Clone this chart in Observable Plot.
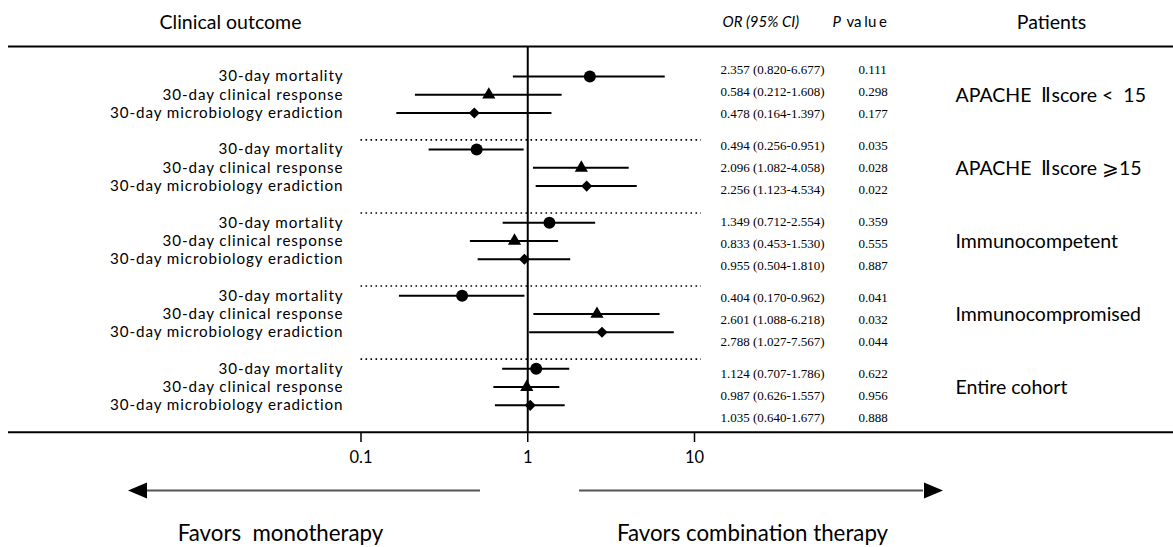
<!DOCTYPE html>
<html>
<head>
<meta charset="utf-8">
<script src="https://cdn.jsdelivr.net/npm/d3@7"></script>
<script src="https://cdn.jsdelivr.net/npm/@observablehq/plot@0.6"></script>
<style>
  html, body { margin: 0; padding: 0; background: #fff; }
  #chart svg { display: block; }
</style>
</head>
<body>
<div id="chart"></div>
<script>
// ---------- data ----------
const groups = ["APACHE\u00a0\u00a0\u2161score <\u00a0\u00a015", "APACHE\u00a0\u00a0\u2161score \u2a7e15", "Immunocompetent", "Immunocompromised", "Entire cohort"];
const outcomes = ["30-day mortality", "30-day clinical response", "30-day microbiology eradiction"];
const orValues = [2.357, 0.584, 0.478, 0.494, 2.096, 2.256, 1.349, 0.833, 0.955, 0.404, 2.601, 2.788, 1.124, 0.987, 1.035];
const ciLow    = [0.820, 0.212, 0.164, 0.256, 1.082, 1.123, 0.712, 0.453, 0.504, 0.170, 1.088, 1.027, 0.707, 0.626, 0.640];
const ciHigh   = [6.677, 1.608, 1.397, 0.951, 4.058, 4.534, 2.554, 1.530, 1.810, 0.962, 6.218, 7.567, 1.786, 1.557, 1.677];
const pValues  = ["0.111", "0.298", "0.177", "0.035", "0.028", "0.022", "0.359", "0.555", "0.887", "0.041", "0.032", "0.044", "0.622", "0.956", "0.888"];
const tickValues = [0.1, 1, 10];

// ---------- layout ----------
const W = 1173, H = 547;
const f3 = d3.format(".3f");
const rows = orValues.map((v, i) => {
  const g = Math.floor(i / 3), j = i % 3;
  return {
    g, j, or: v, lo: ciLow[i], hi: ciHigh[i],
    label: outcomes[j],
    k: 4 * g + j,                       // row slot (blank slot between groups)
    tk: -0.38 + 4.16 * g + 1.2 * j,     // slot of the numeric text column
    ci: `${f3(v)} (${f3(ciLow[i])}-${f3(ciHigh[i])})`,
    p: pValues[i]
  };
});

const xOpts = {type: "log", domain: [0.1, 10], range: [360.5, 694]};
const yOpts = {type: "linear", domain: [0, 1], range: [76, 94.27]};
const xs = Plot.scale({x: xOpts});
const ys = Plot.scale({y: yOpts});
const X = px => xs.invert(px);
const Y = py => ys.invert(py);

const sans = "Lato, 'Open Sans', sans-serif";
const serif = "'Liberation Serif', 'DejaVu Serif', serif";

const arrowHead = {
  draw(ctx) { ctx.moveTo(10, 0); ctx.lineTo(-9, -8); ctx.lineTo(-9, 8); ctx.closePath(); }
};

const sepSlots = [0, 1, 2, 3].map(g => 4 * g + 3.47);

const marks = [
  // top rule and baseline
  Plot.ruleY([Y(46)], {strokeWidth: 2}),
  Plot.ruleY([Y(431.7)], {strokeWidth: 2}),
  // line of no effect
  Plot.ruleX([1], {y1: Y(46), y2: Y(431.7), strokeWidth: 2}),
  // dotted separators
  Plot.ruleY(sepSlots, {x1: 0.1, x2: X(701), strokeWidth: 1.6, strokeDasharray: "1.6,3.4"}),
  // CI lines
  Plot.ruleY(rows, {y: "k", x1: "lo", x2: "hi", strokeWidth: 2}),
  // point estimates
  Plot.dot(rows.filter(d => d.j === 0), {x: "or", y: "k", symbol: "circle", r: 6, fill: "black", stroke: "none"}),
  Plot.dot(rows.filter(d => d.j === 1), {x: "or", y: "k", symbol: "triangle", r: 4.9, fill: "black", stroke: "none"}),
  Plot.dot(rows.filter(d => d.j === 2), {x: "or", y: "k", symbol: "diamond2", r: 5, fill: "black", stroke: "none"}),
  // outcome labels
  Plot.text(rows, {x: X(343), y: "k", text: "label", textAnchor: "end", fontSize: 15.2, fontFamily: sans}),
  // OR (CI) and P value columns
  Plot.text(rows, {x: X(720), y: "tk", text: "ci", textAnchor: "start", fontSize: 13, fontFamily: serif}),
  Plot.text(rows, {x: X(858), y: "tk", text: "p", textAnchor: "start", fontSize: 13, fontFamily: serif}),
  // group labels
  Plot.text(groups, {x: X(955), y: (d, i) => 4 * i + 1.05, text: d => d, textAnchor: "start", fontSize: 19.5, fontFamily: sans}),
  // headers
  Plot.text(["Clinical outcome"], {x: X(230), y: Y(22), text: d => d, textAnchor: "middle", fontSize: 19.5, fontFamily: sans}),
  Plot.text(["OR (95% CI)"], {x: X(722), y: Y(22), text: d => d, textAnchor: "start", fontSize: 15, fontStyle: "italic", fontFamily: sans}),
  Plot.text(["P"], {x: X(832), y: Y(22), text: d => d, textAnchor: "start", fontSize: 15, fontStyle: "italic", fontFamily: sans}),
  Plot.text(["va\u2009\u200alu\u2009\u200ae"], {x: X(846), y: Y(22), text: d => d, textAnchor: "start", fontSize: 15, fontFamily: sans}),
  Plot.text(["Patients"], {x: X(1051), y: Y(22), text: d => d, textAnchor: "middle", fontSize: 19.5, fontFamily: sans}),
  // direction arrows
  Plot.ruleY([Y(490)], {x1: X(147), x2: X(480), stroke: "#555", strokeWidth: 2}),
  Plot.ruleY([Y(490)], {x1: X(579), x2: X(923), stroke: "#555", strokeWidth: 2}),
  Plot.dot([0], {x: X(137.5), y: Y(490), symbol: arrowHead, rotate: 180, fill: "black", stroke: "none"}),
  Plot.dot([0], {x: X(932.5), y: Y(490), symbol: arrowHead, fill: "black", stroke: "none"}),
  Plot.text(["Favors\u00a0\u00a0monotherapy"], {x: X(280), y: Y(533), text: d => d, textAnchor: "middle", fontSize: 22.3, fontFamily: sans}),
  Plot.text(["Favors combination therapy"], {x: X(752), y: Y(533), text: d => d, textAnchor: "middle", fontSize: 22.3, fontFamily: sans})
];

if (Plot.axisX) {
  marks.push(Plot.axisX(tickValues, {tickSize: 10, tickPadding: 9, tickFormat: d => String(d), fontSize: 16.5, fontFamily: sans, strokeWidth: 1.5, label: null}));
}

const chart = Plot.plot({
  width: W,
  height: H,
  marginTop: 0,
  marginLeft: 8,
  marginRight: 0,
  marginBottom: 115,
  x: {...xOpts, ...(Plot.axisX ? {axis: null} : {ticks: tickValues, tickSize: 10, tickPadding: 9, tickFormat: d => String(d), label: null})},
  y: {...yOpts, axis: null},
  style: {background: "#fff", color: "black", fontFamily: sans, fontSize: "16px", overflow: "visible"},
  marks
});
// widen the tightly packed outcome labels with letter spacing (as in the reference)
d3.select(chart).selectAll("text")
  .filter(function() { return outcomes.includes(this.textContent); })
  .style("letter-spacing", "0.9px");
document.getElementById("chart").appendChild(chart);
</script>
</body>
</html>
